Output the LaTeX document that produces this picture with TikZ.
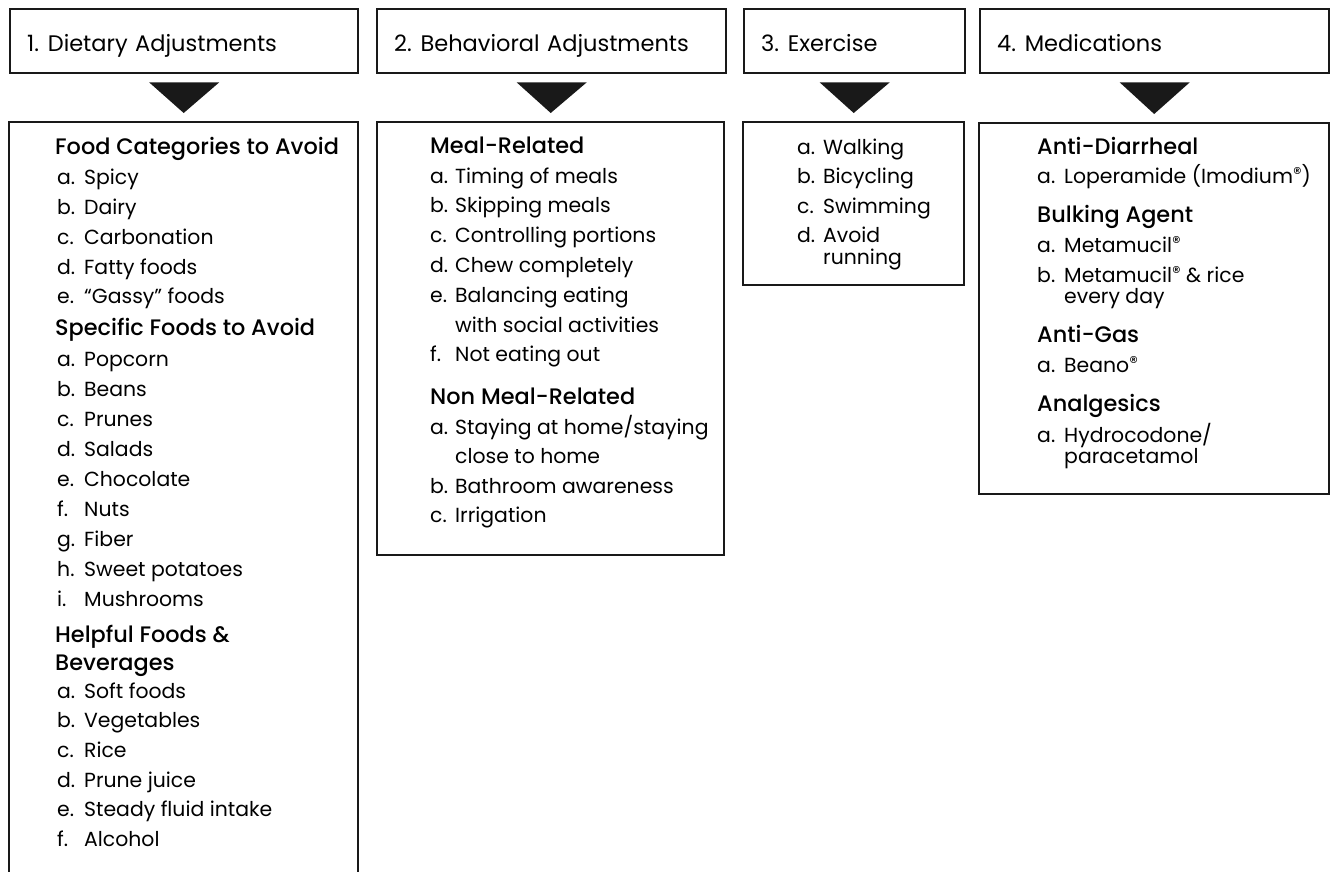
\documentclass[tikz,border=0pt]{standalone}
\usepackage{fontspec}
\setmainfont{Poppins}
\newfontfamily\hdfont{Poppins Medium}
\usetikzlibrary{calc}
\newcommand\lab[2][27pt]{\makebox[#1][l]{#2}}
\newcommand\reg{{\fontsize{17}{17}\selectfont\raisebox{4pt}{®}}}
\newcommand\num[1]{#1.\hspace{-2.5pt} }
\tikzset{
  frame/.style={draw=black!90, line width=2.4pt},
  hbox/.style={frame, anchor=north west, minimum height=64pt, inner xsep=17pt, inner ysep=0pt, text height=22pt, text depth=2pt, align=left, font=\fontsize{22.5}{26}\selectfont},
  cbox/.style={frame, anchor=north west, inner sep=0pt},
  tri/.style={fill=black!90},
  it/.style={anchor=base west, inner sep=0pt, font=\fontsize{20.4}{24}\selectfont},
  hd/.style={anchor=base west, inner sep=0pt, font=\hdfont\fontsize{22.4}{26}\selectfont},
}
\begin{document}
\begin{tikzpicture}[x=1pt,y=-1pt]
\useasboundingbox (0,0) rectangle (1334,871);
% headers
\node[hbox, minimum width=348pt, text width=314pt] (h1) at (9,8) {\num{1}Dietary Adjustments};
\node[hbox, minimum width=349pt, text width=315pt] (h2) at (376,8) {\num{2}Behavioral Adjustments};
\node[hbox, minimum width=221pt, text width=187pt] (h3) at (743,8) {\num{3}Exercise};
\node[hbox, minimum width=349pt, text width=315pt] (h4) at (979,8) {\num{4}Medications};
% content boxes
\node[cbox, minimum width=349pt, minimum height=790pt] (b1) at (8,121) {};
\node[cbox, minimum width=347pt, minimum height=433pt] (b2) at (376,121) {};
\node[cbox, minimum width=221pt, minimum height=163pt] (b3) at (742,121) {};
\node[cbox, minimum width=350pt, minimum height=371pt] (b4) at (978,122) {};
% triangles
\foreach \i in {1,2,3,4}{
  \fill[tri] ($(h\i.south)+(-35,8)$) -- ($(h\i.south)+(35,8)$) -- ($(b\i.north)+(0,-8)$) -- cycle;
}
% column 1
\node[hd] (c1h1) at (55,154) {Food Categories to Avoid};
\node[it] (c1a) at (57,184) {\lab{a.}Spicy};
\node[it] (c1b) at (57,214) {\lab{b.}Dairy};
\node[it] (c1c) at (57,244) {\lab{c.}Carbonation};
\node[it] (c1d) at (57,274) {\lab{d.}Fatty foods};
\node[it] (c1e) at (57,303) {\lab{e.}“Gassy” foods};
\node[hd] (c1h2) at (55,335) {Specific Foods to Avoid};
\node[it] (c2a) at (57,366) {\lab{a.}Popcorn};
\node[it] (c2b) at (57,396) {\lab{b.}Beans};
\node[it] (c2c) at (57,426) {\lab{c.}Prunes};
\node[it] (c2d) at (57,456) {\lab{d.}Salads};
\node[it] (c2e) at (57,486) {\lab{e.}Chocolate};
\node[it] (c2f) at (57,516) {\lab{f.}Nuts};
\node[it] (c2g) at (57,546) {\lab{g.}Fiber};
\node[it] (c2h) at (57,576) {\lab{h.}Sweet potatoes};
\node[it] (c2i) at (57,606) {\lab{i.}Mushrooms};
\node[hd] (c1h3) at (55,642) {Helpful Foods \&};
\node[hd] (c1h3b) at (55,670) {Beverages};
\node[it] (c3a) at (57,698) {\lab{a.}Soft foods};
\node[it] (c3b) at (57,727) {\lab{b.}Vegetables};
\node[it] (c3c) at (57,757) {\lab{c.}Rice};
\node[it] (c3d) at (57,787) {\lab{d.}Prune juice};
\node[it] (c3e) at (57,816) {\lab{e.}Steady fluid intake};
\node[it] (c3f) at (57,846) {\lab{f.}Alcohol};
% column 2
\node[hd] (d1h) at (430,153) {Meal-Related};
\node[it] (d1a) at (430,183) {\lab[25pt]{a.}Timing of meals};
\node[it] (d1b) at (430,212) {\lab[25pt]{b.}Skipping meals};
\node[it] (d1c) at (430,242) {\lab[25pt]{c.}Controlling portions};
\node[it] (d1d) at (430,272) {\lab[25pt]{d.}Chew completely};
\node[it] (d1e) at (430,302) {\lab[25pt]{e.}Balancing eating};
\node[it] (d1e2) at (455,332) {with social activities};
\node[it] (d1f) at (430,361) {\lab[25pt]{f.}Not eating out};
\node[hd] (d2h) at (430,404) {Non Meal-Related};
\node[it] (d2a) at (430,434) {\lab[25pt]{a.}Staying at home/staying};
\node[it] (d2a2) at (455,463) {close to home};
\node[it] (d2b) at (430,493) {\lab[25pt]{b.}Bathroom awareness};
\node[it] (d2c) at (430,522) {\lab[25pt]{c.}Irrigation};
% column 3
\node[it] (e1) at (797,154) {\lab[26pt]{a.}Walking};
\node[it] (e2) at (797,183) {\lab[26pt]{b.}Bicycling};
\node[it] (e3) at (797,213) {\lab[26pt]{c.}Swimming};
\node[it] (e4) at (797,242) {\lab[26pt]{d.}Avoid};
\node[it] (e4b) at (823,264) {running};
% column 4
\node[hd] (f1h) at (1037,154) {Anti-Diarrheal};
\node[it] (f1a) at (1037,183) {\lab{a.}Loperamide (Imodium\reg)};
\node[hd] (f2h) at (1037,222) {Bulking Agent};
\node[it] (f2a) at (1037,252) {\lab{a.}Metamucil\reg};
\node[it] (f2b) at (1037,282) {\lab{b.}Metamucil\reg{} \& rice};
\node[it] (f2b2) at (1064,303) {every day};
\node[hd] (f3h) at (1037,342) {Anti-Gas};
\node[it] (f3a) at (1037,372) {\lab{a.}Beano\reg};
\node[hd] (f4h) at (1037,411) {Analgesics};
\node[it] (f4a) at (1037,442) {\lab{a.}Hydrocodone/};
\node[it] (f4a2) at (1064,463) {paracetamol};
\end{tikzpicture}
\end{document}
